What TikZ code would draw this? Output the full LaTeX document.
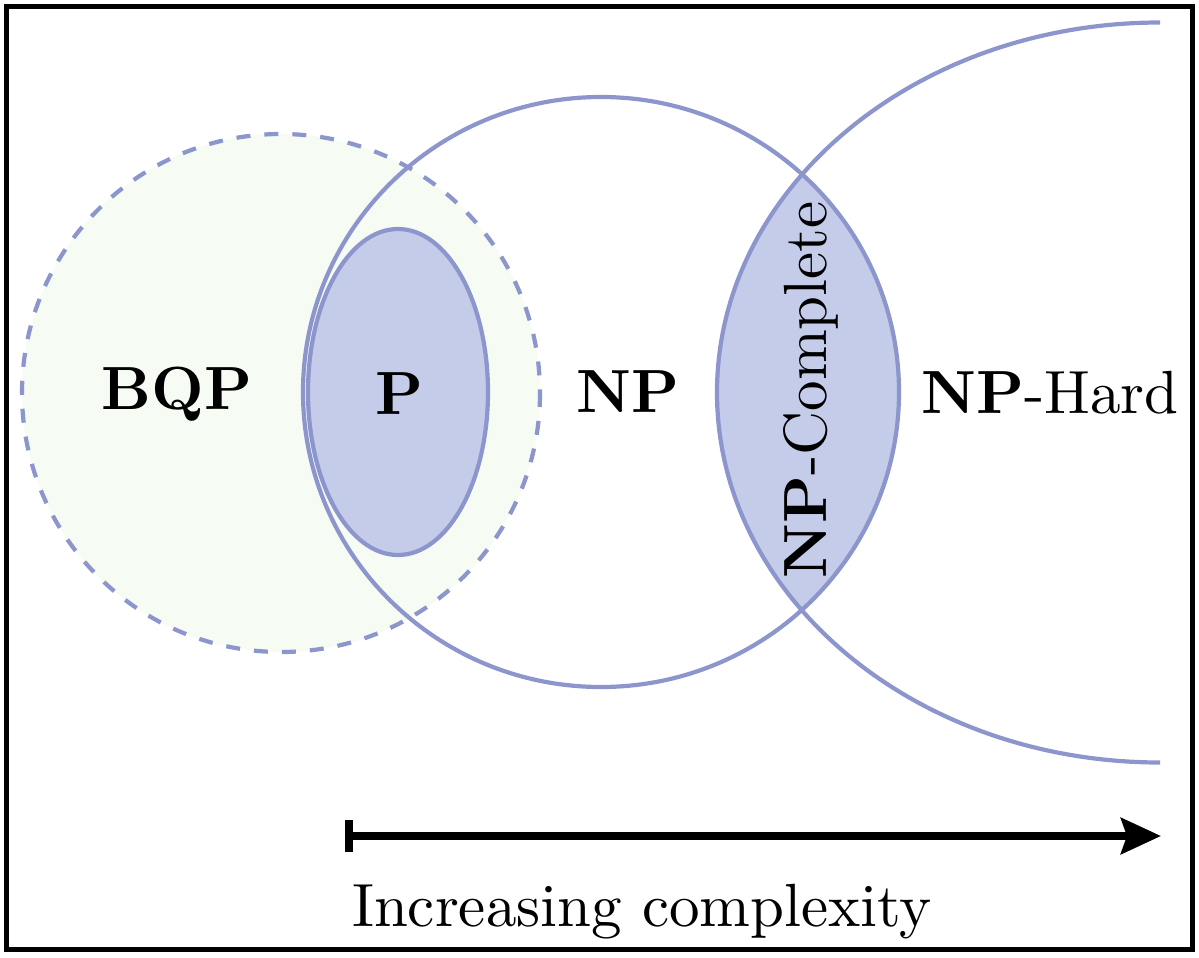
\documentclass[tikz,border=0pt]{standalone}
\usetikzlibrary{arrows.meta}
\definecolor{lineblue}{RGB}{140,150,205}
\definecolor{fillblue}{RGB}{197,204,234}
\definecolor{bqpgreen}{RGB}{246,251,244}
\begin{document}
\begin{tikzpicture}[x=0.5pt,y=-0.5pt,
  setline/.style={draw=lineblue,line width=2.1pt},
  lbl/.style={scale=3.05,inner sep=0pt,anchor=base},
  arrowline/.style={line width=3.8pt,{Bar[width=16pt,line width=3.8pt]}-{Stealth[length=20pt,width=18pt,inset=3pt]}}]
\useasboundingbox (0,0) rectangle (1199,958);
% frame
\draw[line width=2.6pt] (6.5,6.5) rectangle (1192.5,949.5);
% BQP fill
\fill[bqpgreen] (281,393) circle[radius=259];
% NP-Complete lens
\begin{scope}
  \clip (601,392) ellipse[x radius=298,y radius=295];
  \fill[fillblue] (1160,392.5) ellipse[x radius=443,y radius=370];
\end{scope}
% P
\filldraw[setline,fill=fillblue] (398,392) ellipse[x radius=90,y radius=163];
% BQP dashed outline
\draw[setline,dash pattern=on 7pt off 7pt] (281,393) circle[radius=259];
% NP circle
\draw[setline] (601,392) ellipse[x radius=298,y radius=295];
% NP-Hard arc
\draw[setline] (1160,762.5) arc[start angle=90,end angle=270,x radius=443,y radius=370];
% labels
\node[lbl] (bqp) at (177,409) {\textbf{BQP}};
\node[lbl] (p) at (399,414) {\textbf{P}};
\node[lbl] (np) at (628,412) {\textbf{NP}};
\node[lbl] (nphard) at (1050,413) {\textbf{NP}-Hard};
\node[lbl,rotate=90] (npc) at (826,390) {\textbf{NP}-Complete};
% arrow
\coordinate (astart) at (345,836);
\coordinate (aend) at (1161,836);
\draw[arrowline] (astart) -- (aend);
\node[lbl] (inc) at (642,926) {Increasing complexity};
\end{tikzpicture}
\end{document}
